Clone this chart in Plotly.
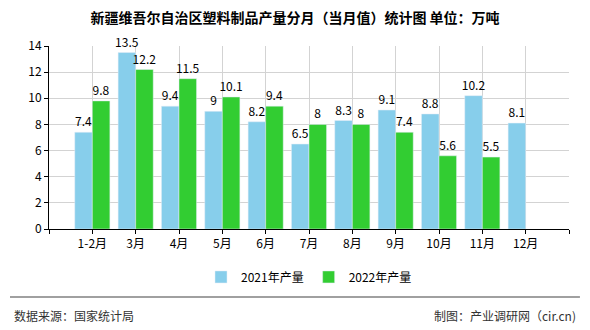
import plotly.graph_objects as go

categories = ["1-2月", "3月", "4月", "5月", "6月", "7月", "8月", "9月", "10月", "11月", "12月"]
values_2021 = [7.4, 13.5, 9.4, 9, 8.2, 6.5, 8.3, 9.1, 8.8, 10.2, 8.1]
values_2022 = [9.8, 12.2, 11.5, 10.1, 9.4, 8, 8, 7.4, 5.6, 5.5, None]
y_ticks = [0, 2, 4, 6, 8, 10, 12, 14]

FONT = "Noto Sans CJK SC"
xpos = list(range(len(categories)))

def labels(vals):
    return ["" if v is None else f"{v:g}" for v in vals]

fig = go.Figure()
fig.add_trace(go.Bar(
    x=xpos, y=values_2021, name="2021年产量", marker_color="#87CEEB",
    text=labels(values_2021), textposition="outside", cliponaxis=False,
    constraintext="none",
    textfont=dict(family=FONT, size=12, color="#000000"),
))
fig.add_trace(go.Bar(
    x=xpos, y=values_2022, name="2022年产量", marker_color="#32CD32",
    text=labels(values_2022), textposition="outside", cliponaxis=False,
    constraintext="none",
    textfont=dict(family=FONT, size=12, color="#000000"),
))

n = len(categories)
fig.update_layout(
    width=590, height=330,
    margin=dict(l=49, r=21, t=46, b=101),
    paper_bgcolor="white", plot_bgcolor="white",
    barmode="group", bargap=0.19, bargroupgap=0,
    uniformtext=dict(minsize=12, mode="show"),
    font=dict(family=FONT, size=12, color="#000000"),
    title=dict(text="<b>新疆维吾尔自治区塑料制品产量分月（当月值）统计图 单位：万吨</b>",
               x=0.5, xanchor="center", y=1 - 18 / 330, yanchor="middle",
               font=dict(family=FONT, size=14, color="#000000")),
    showlegend=True,
    legend=dict(orientation="h", x=0.5, xanchor="center", y=-0.262, yanchor="middle",
                font=dict(family=FONT, size=12, color="#000000"), itemwidth=30,
                traceorder="normal"),
    xaxis=dict(
        range=[-1, n], tickmode="array",
        tickvals=list(range(-1, n + 1)),
        ticktext=[""] + categories + [""],
        showgrid=True, gridcolor="#D3D3D3", gridwidth=1,
        showline=True, linecolor="#000000", linewidth=1,
        ticks="outside", ticklen=4, tickcolor="#000000",
        tickfont=dict(family=FONT, size=12, color="#000000"),
        zeroline=False, mirror=False,
    ),
    yaxis=dict(
        range=[0, 14], tickmode="array", tickvals=y_ticks,
        showgrid=True, gridcolor="#D3D3D3", gridwidth=1,
        showline=True, linecolor="#000000", linewidth=1,
        ticks="outside", ticklen=4, tickcolor="#000000",
        tickfont=dict(family=FONT, size=12, color="#000000"),
        zeroline=False,
    ),
    shapes=[dict(type="line", xref="paper", yref="paper",
                 x0=-0.075, x1=1.021, y0=-0.372, y1=-0.372,
                 line=dict(color="#808080", width=1.5))],
    annotations=[
        dict(text="数据来源：国家统计局", xref="paper", yref="paper",
             x=-0.071, y=-0.475, xanchor="left", yanchor="middle", showarrow=False,
             font=dict(family=FONT, size=12, color="#333333")),
        dict(text="制图：产业调研网（cir.cn)", xref="paper", yref="paper",
             x=1.017, y=-0.475, xanchor="right", yanchor="middle", showarrow=False,
             font=dict(family=FONT, size=12, color="#333333")),
    ],
)

fig.write_html("out.html")
